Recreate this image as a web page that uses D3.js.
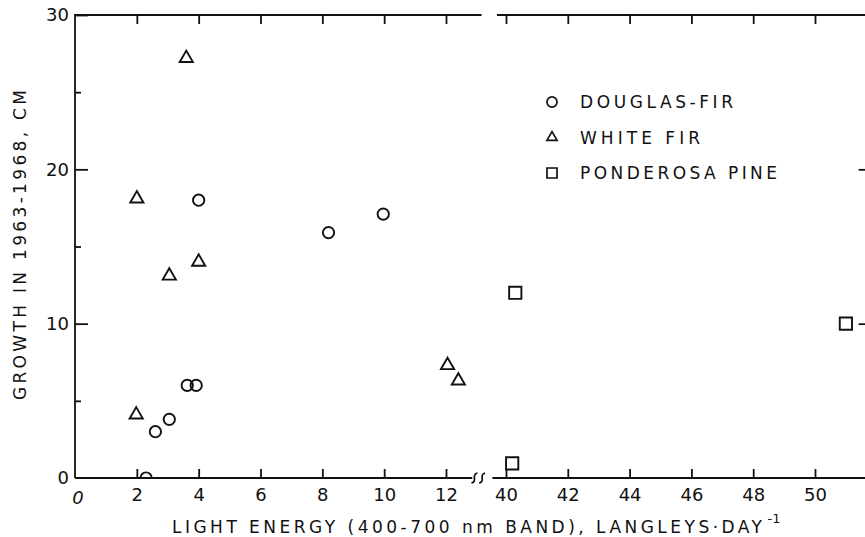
<!DOCTYPE html>
<html>
<head>
<meta charset="utf-8">
<script src="https://cdn.jsdelivr.net/npm/d3@7"></script>
<style>
  body { margin: 0; background: #fff; }
  text { font-family: "DejaVu Sans", sans-serif; fill: #111; }
  .axis path, .axis line { stroke: #111; stroke-width: 1.8; }
</style>
</head>
<body>
<div id="chart"></div>
<script>
var species = ["DOUGLAS-FIR", "WHITE FIR", "PONDEROSA PINE"];
var douglasFir = [[2.3, 0], [2.6, 3.0], [3.05, 3.8], [3.63, 6.0], [3.92, 6.0], [4.0, 18.0], [8.2, 15.9], [9.97, 17.1]];
var whiteFir = [[3.6, 27.2], [2.0, 18.1], [4.0, 14.0], [3.05, 13.1], [1.98, 4.1], [12.05, 7.3], [12.4, 6.3]];
var ponderosaPine = [[40.3, 12.0], [40.2, 0.95], [51.0, 10.0]];

var xTicksLow = [0, 2, 4, 6, 8, 10, 12];
var xTicksHigh = [40, 42, 44, 46, 48, 50];
var yTicksMajor = [0, 10, 20, 30];
var yTicksMinor = [5, 15, 25];

var W = 865, H = 537;

var svg = d3.select("#chart")
  .append("svg")
  .attr("width", W)
  .attr("height", H);

// broken x axis: two linear pieces with the same scale
var xLow = d3.scaleLinear().domain([0, 12]).range([75, 446]);
var xHigh = d3.scaleLinear().domain([40, 50]).range([506, 815]);
var y = d3.scaleLinear().domain([0, 30]).range([478, 15]);
function xPos(v) { return v < 30 ? xLow(v) : xHigh(v); }

var yTop = y(30), yBot = y(0), xLeft = xLow(0), xRight = xHigh(51.8);

// frame lines
var frame = svg.append("g").attr("class", "axis");
frame.append("line").attr("x1", xLeft).attr("x2", xLeft).attr("y1", yTop - 1).attr("y2", yBot);
frame.append("line").attr("x1", xLeft).attr("x2", xLow(13.15)).attr("y1", yTop).attr("y2", yTop);
frame.append("line").attr("x1", xLow(13.65)).attr("x2", xRight).attr("y1", yTop).attr("y2", yTop);
frame.append("line").attr("x1", xLeft).attr("x2", xLow(12.85)).attr("y1", yBot).attr("y2", yBot);
frame.append("line").attr("x1", xLow(13.5)).attr("x2", xRight).attr("y1", yBot).attr("y2", yBot);
frame.append("line").attr("x1", xRight).attr("x2", xRight).attr("y1", yTop).attr("y2", yBot);

// break symbol on the bottom axis
[xLow(12.92), xLow(13.17)].forEach(function(cx) {
  frame.append("path")
    .attr("fill", "none")
    .attr("d", "M" + (cx - 3) + "," + (yBot + 5) +
      " C" + (cx + 4) + "," + (yBot + 3) + " " + (cx - 4) + "," + (yBot - 3) + " " + (cx + 3) + "," + (yBot - 5));
});

// bottom ticks and labels
var xAxisLow = d3.axisBottom(xLow).tickValues(xTicksLow.slice(1)).tickSizeInner(-9).tickSizeOuter(0).tickPadding(10).tickFormat(d3.format("d"));
var xAxisHigh = d3.axisBottom(xHigh).tickValues(xTicksHigh).tickSizeInner(-9).tickSizeOuter(0).tickPadding(10).tickFormat(d3.format("d"));
[xAxisLow, xAxisHigh].forEach(function(ax) {
  var g = svg.append("g")
    .attr("class", "axis")
    .attr("transform", "translate(0," + yBot + ")")
    .call(ax);
  g.select(".domain").remove();
  g.selectAll("text").style("font-size", "18px").attr("fill", "#111");
});
svg.append("text")
  .attr("x", xLow(0) + 3)
  .attr("y", yBot + 26)
  .attr("text-anchor", "middle")
  .style("font-size", "18px")
  .style("font-style", "italic")
  .text("0");

// top ticks
[[xLow, xTicksLow.slice(1)], [xHigh, xTicksHigh]].forEach(function(p) {
  var g = svg.append("g")
    .attr("class", "axis")
    .attr("transform", "translate(0," + yTop + ")")
    .call(d3.axisTop(p[0]).tickValues(p[1]).tickSizeInner(-9).tickSizeOuter(0).tickFormat(""));
  g.select(".domain").remove();
});

// left axis
var yAxis = d3.axisLeft(y).tickValues(yTicksMajor).tickSizeInner(-13).tickSizeOuter(0).tickPadding(6);
var gy = svg.append("g")
  .attr("class", "axis")
  .attr("transform", "translate(" + xLeft + ",0)")
  .call(yAxis);
gy.select(".domain").remove();
gy.selectAll("text").style("font-size", "18px").attr("fill", "#111");
gy.selectAll(".tick").filter(function(d) { return d === 0; }).select("line").remove();
var gyMinor = svg.append("g")
  .attr("class", "axis")
  .attr("transform", "translate(" + xLeft + ",0)")
  .call(d3.axisLeft(y).tickValues(yTicksMinor).tickSizeInner(-6).tickSizeOuter(0).tickFormat(""));
gyMinor.select(".domain").remove();

// right axis ticks
var gr = svg.append("g")
  .attr("class", "axis")
  .attr("transform", "translate(" + xRight + ",0)")
  .call(d3.axisRight(y).tickValues([10, 20]).tickSizeInner(-12).tickSizeOuter(0).tickFormat(""));
gr.select(".domain").remove();

// axis titles
var xt = svg.append("text")
  .attr("x", 172)
  .attr("y", 533)
  .style("font-size", "17px");
xt.append("tspan")
  .attr("textLength", 590)
  .attr("lengthAdjust", "spacing")
  .text("LIGHT ENERGY (400-700 nm BAND), LANGLEYS·DAY");
xt.append("tspan")
  .attr("dy", -10)
  .attr("dx", 2)
  .style("font-size", "13px")
  .text("-1");

svg.append("text")
  .attr("transform", "translate(26,400) rotate(-90)")
  .attr("textLength", 310)
  .attr("lengthAdjust", "spacing")
  .style("font-size", "17px")
  .text("GROWTH IN 1963-1968, CM");

// markers
svg.append("clipPath").attr("id", "plotclip")
  .append("rect").attr("x", xLeft).attr("y", yTop).attr("width", xRight - xLeft).attr("height", yBot - yTop);

var marks = svg.append("g").attr("clip-path", "url(#plotclip)")
  .attr("fill", "none").attr("stroke", "#111").attr("stroke-width", 1.9);

var sym = [d3.symbolCircle, d3.symbolTriangle, d3.symbolSquare];
var sizes = [100, 75, 150];
[douglasFir, whiteFir, ponderosaPine].forEach(function(data, i) {
  marks.selectAll(".m" + i)
    .data(data)
    .enter().append("path")
    .attr("class", "m" + i)
    .attr("transform", function(d) { return "translate(" + xPos(d[0]) + "," + y(d[1]) + ")"; })
    .attr("d", d3.symbol().type(sym[i]).size(sizes[i]));
});

// legend
var legendW = [153, 120, 197];
var legend = svg.append("g").attr("transform", "translate(552,102)");
species.forEach(function(name, i) {
  var row = legend.append("g").attr("transform", "translate(0," + (i * 35.5) + ")");
  row.append("path")
    .attr("d", d3.symbol().type(sym[i]).size([80, 45, 100][i]))
    .attr("fill", "none").attr("stroke", "#111").attr("stroke-width", 1.7);
  row.append("text")
    .attr("x", 28)
    .attr("y", 6)
    .attr("textLength", legendW[i])
    .attr("lengthAdjust", "spacing")
    .style("font-size", "17px")
    .text(name);
});
</script>
</body>
</html>
